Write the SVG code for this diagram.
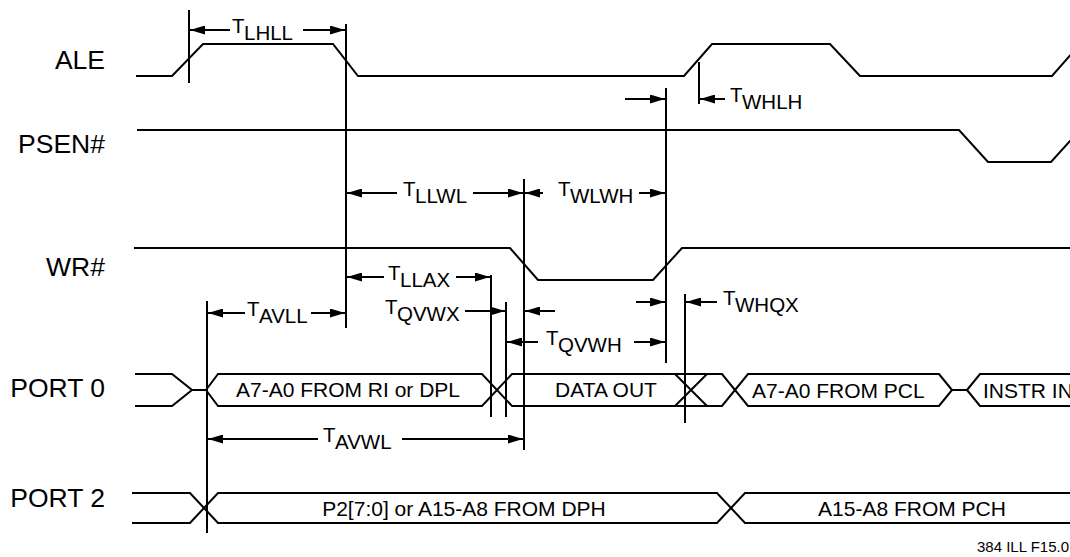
<svg xmlns="http://www.w3.org/2000/svg" width="1070" height="557" viewBox="0 0 1070 557">
<style>
.w{fill:none;stroke:#000;stroke-width:2;stroke-linejoin:miter}
.v{fill:none;stroke:#000;stroke-width:2}
.a{fill:none;stroke:#000;stroke-width:2;marker-end:url(#ah)}
.lbl{font-family:"Liberation Sans",Arial,sans-serif;font-size:26.5px;text-anchor:end;fill:#000}
.t{font-family:"Liberation Sans",Arial,sans-serif;font-size:20.5px;fill:#000}
.bus{font-family:"Liberation Sans",Arial,sans-serif;font-size:21px;fill:#000}
.foot{font-family:"Liberation Sans",Arial,sans-serif;font-size:15px;fill:#000}
</style>
<defs>
<marker id="ah" markerUnits="userSpaceOnUse" markerWidth="15" markerHeight="9" refX="15" refY="4.5" orient="auto"><path d="M0,0 L15,4.5 L0,9 z" fill="#000"/></marker>
</defs>
<rect width="1070" height="557" fill="#fff"/>

<g id="ALE">
<text class="lbl" x="105" y="69">ALE</text>
<path class="w" d="M136,76 H172 L203,44 H333 L358,76 H684 L712,44 H830 L860,76 H1052 L1080,44"/>
</g>
<g id="PSEN">
<text class="lbl" x="105" y="153">PSEN#</text>
<path class="w" d="M137,130 H959 L988,162 H1051 L1080,130"/>
</g>
<g id="WR">
<text class="lbl" x="105" y="276">WR#</text>
<path class="w" d="M134,248 H510 L538,280 H653 L682,248 H1075"/>
</g>
<g id="PORT0">
<text class="lbl" x="105" y="397">PORT 0</text>
<path class="w" d="M135,374 H172 L192,390 L172,406 H135"/>
<path class="w" d="M192,390 H206"/>
<path class="w" d="M206,390 L218,374 H482 L512,406 H722 L748,374 H939 L952,390"/>
<path class="w" d="M206,390 L218,406 H482 L512,374 H722 L748,406 H939 L952,390"/>
<path class="w" d="M675,374 L707,406 M675,406 L707,374"/>
<path class="w" d="M952,390 H967"/>
<path class="w" d="M967,390 L980,374 H1075 M967,390 L980,406 H1075"/>
<text class="bus" x="348" y="397" text-anchor="middle">A7-A0 FROM RI or DPL</text>
<text class="bus" x="606" y="397" text-anchor="middle">DATA OUT</text>
<text class="bus" x="752" y="398">A7-A0 FROM PCL</text>
<text class="bus" x="983" y="398">INSTR IN</text>
</g>
<g id="PORT2">
<text class="lbl" x="105" y="507">PORT 2</text>
<path class="w" d="M132,493 H190 L218,523 H717 L745,493 H1075"/>
<path class="w" d="M132,523 H190 L218,493 H717 L745,523 H1075"/>
<text class="bus" x="464" y="516" text-anchor="middle">P2[7:0] or A15-A8 FROM DPH</text>
<text class="bus" x="912" y="516" text-anchor="middle">A15-A8 FROM PCH</text>
</g>

<g id="connectors">
<path class="v" d="M189,10 V83 M346,24 V328 M666,88 V363 M699,62 V104 M524,179 V450 M491,275 V417 M506,302 V417 M685,294 V423 M207,301 V533"/>
<line class="a" x1="230" y1="30" x2="190" y2="30"/>
<line class="a" x1="303" y1="30" x2="345" y2="30"/>
<line class="a" x1="625" y1="99" x2="665" y2="99"/>
<line class="a" x1="725" y1="99" x2="700" y2="99"/>
<line class="a" x1="397" y1="193" x2="347" y2="193"/>
<line class="a" x1="473" y1="193" x2="523" y2="193"/>
<line class="a" x1="543" y1="193" x2="525" y2="193"/>
<line class="a" x1="639" y1="193" x2="665" y2="193"/>
<line class="a" x1="384" y1="277" x2="347" y2="277"/>
<line class="a" x1="456" y1="277" x2="490" y2="277"/>
<line class="a" x1="245" y1="313" x2="208" y2="313"/>
<line class="a" x1="311" y1="313" x2="345" y2="313"/>
<line class="a" x1="465" y1="311" x2="505" y2="311"/>
<line class="a" x1="555" y1="311" x2="525" y2="311"/>
<line class="a" x1="538" y1="342" x2="507" y2="342"/>
<line class="a" x1="634" y1="342" x2="665" y2="342"/>
<line class="a" x1="636" y1="302" x2="665" y2="302"/>
<line class="a" x1="717" y1="302" x2="686" y2="302"/>
<line class="a" x1="318" y1="439" x2="208" y2="439"/>
<line class="a" x1="402" y1="439" x2="523" y2="439"/>
<text class="t" x="232" y="33">T<tspan x="244" dy="7">LHLL</tspan></text>
<text class="t" x="730" y="102">T<tspan x="742" dy="7">WHLH</tspan></text>
<text class="t" x="403" y="196">T<tspan x="415" dy="7">LLWL</tspan></text>
<text class="t" x="558" y="196">T<tspan x="570" dy="7">WLWH</tspan></text>
<text class="t" x="388" y="280">T<tspan x="400" dy="7">LLAX</tspan></text>
<text class="t" x="247" y="316">T<tspan x="259" dy="7">AVLL</tspan></text>
<text class="t" x="385" y="314">T<tspan x="397" dy="7">QVWX</tspan></text>
<text class="t" x="546" y="345">T<tspan x="558" dy="7">QVWH</tspan></text>
<text class="t" x="723" y="305">T<tspan x="735" dy="7">WHQX</tspan></text>
<text class="t" x="323" y="442">T<tspan x="335" dy="7">AVWL</tspan></text>
</g>
<text class="foot" x="977" y="552">384 ILL F15.0</text>
</svg>
